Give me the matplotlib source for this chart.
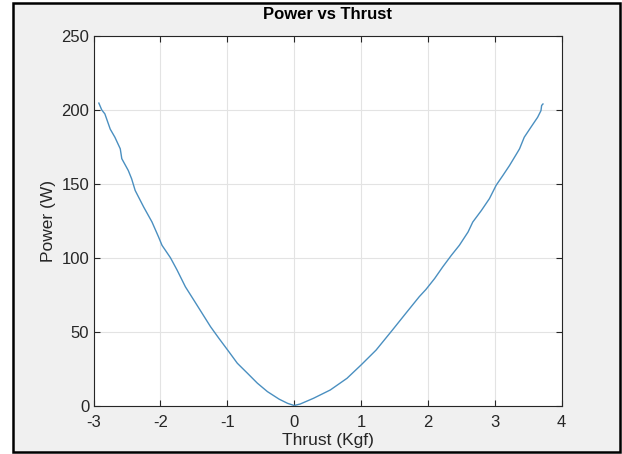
import matplotlib.pyplot as plt
from matplotlib.patches import Rectangle

# Data (Thrust in Kgf, Power in W)
thrust = [-2.92, -2.877, -2.83, -2.75, -2.68, -2.60, -2.577, -2.48, -2.43, -2.377,
          -2.25, -2.126, -2.027, -1.976, -1.85, -1.75, -1.626, -1.50, -1.375, -1.25,
          -1.126, -0.976, -0.85, -0.70, -0.55, -0.40, -0.225, -0.10, 0.0, 0.09,
          0.29, 0.54, 0.79, 1.0, 1.225, 1.47, 1.67, 1.87, 1.97, 2.10,
          2.22, 2.35, 2.47, 2.60, 2.67, 2.80, 2.92, 3.02, 3.12, 3.22,
          3.34, 3.37, 3.44, 3.54, 3.64, 3.69, 3.70, 3.72]
power = [204.6, 200.0, 197.3, 187.0, 181.5, 173.7, 167.0, 159.0, 153.4, 145.5,
         134.3, 124.2, 114.0, 108.4, 100.0, 91.6, 80.3, 71.3, 62.3, 53.3,
         45.5, 36.4, 28.6, 21.9, 15.1, 9.4, 4.3, 1.5, 0.0, 1.0,
         4.9, 10.5, 18.4, 27.4, 37.5, 51.1, 62.4, 73.6, 78.5, 85.9,
         93.7, 101.6, 108.4, 117.4, 124.1, 132.0, 140.0, 149.0, 155.6, 162.4,
         171.4, 173.7, 181.5, 188.3, 195.0, 199.5, 203.0, 204.0]

xticks = [-3, -2, -1, 0, 1, 2, 3, 4]
yticks = [0, 50, 100, 150, 200, 250]

plt.rcParams['font.family'] = ['Liberation Sans', 'DejaVu Sans']

fig = plt.figure(figsize=(6.22, 4.54), dpi=100)
fig.patch.set_facecolor('white')

# gray MATLAB figure window with a black frame
frame = Rectangle((13 / 622, 2 / 454), 607 / 622, 449 / 454, transform=fig.transFigure,
                  facecolor='#f0f0f0', edgecolor='black', linewidth=1.8, zorder=-5)
fig.add_artist(frame)

ax = fig.add_axes([93.5 / 622, 48.5 / 454, 468.2 / 622, 369.5 / 454])
ax.set_zorder(2)
ax.set_facecolor('white')
ax.plot(thrust, power, color='#4a8fc0', linewidth=1.0)

ax.set_xlim(-3, 4)
ax.set_ylim(0, 250)
ax.set_xticks(xticks)
ax.set_yticks(yticks)
ax.set_xticklabels([str(t) for t in xticks])
ax.grid(True, color='#e3e3e3', linewidth=0.8)
ax.set_axisbelow(True)

for s in ax.spines.values():
    s.set_color('#262626')
    s.set_linewidth(0.8)
ax.tick_params(direction='in', length=4, width=0.8, colors='#262626',
               labelsize=12, top=True, right=True)
ax.tick_params(axis='x', pad=7)
ax.tick_params(axis='y', pad=3)

ax.set_title('Power vs Thrust', fontsize=12, fontweight='bold', pad=12)
ax.set_xlabel('Thrust (Kgf)', fontsize=12.5, color='#262626', labelpad=2)
ax.set_ylabel('Power (W)', fontsize=12.5, color='#262626', labelpad=4)

fig.savefig('out.png', dpi=100, facecolor=fig.get_facecolor())
